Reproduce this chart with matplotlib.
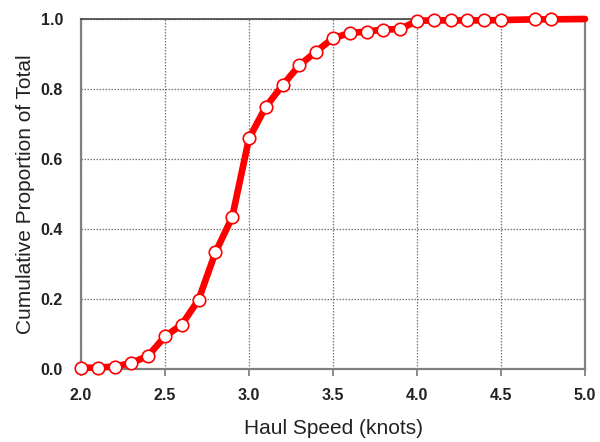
import matplotlib
matplotlib.use("Agg")
import matplotlib.pyplot as plt
import numpy as np

plt.rcParams['font.family'] = ['Liberation Sans', 'DejaVu Sans']

speed = [2.0, 2.1, 2.2, 2.3, 2.4, 2.5, 2.6, 2.7, 2.8, 2.9,
         3.0, 3.1, 3.2, 3.3, 3.4, 3.5, 3.6, 3.7, 3.8, 3.9,
         4.0, 4.1, 4.2, 4.3, 4.4, 4.5, 4.7, 4.8, 5.0]
cum_prop = [0.003, 0.004, 0.007, 0.017, 0.038, 0.093, 0.127, 0.198, 0.333, 0.434,
            0.659, 0.749, 0.811, 0.868, 0.907, 0.945, 0.960, 0.964, 0.970, 0.971,
            0.995, 0.996, 0.996, 0.996, 0.996, 0.997, 0.999, 0.999, 1.0]
marker_count = 28  # last point (5.0) drawn without marker

xticks = [2.0, 2.5, 3.0, 3.5, 4.0, 4.5, 5.0]
yticks = [0.0, 0.2, 0.4, 0.6, 0.8, 1.0]

fig = plt.figure(figsize=(6.0, 4.42), dpi=100)
ax = fig.add_axes([81/600, 1-369/442, (585-81)/600, (369-19)/442])

ax.plot(speed, cum_prop, color='#ff0000', lw=4.8, solid_capstyle='round',
        zorder=3, clip_on=False)
ax.plot(speed[:marker_count], cum_prop[:marker_count], ls='none', marker='o',
        ms=9.0, mfc='white', mec='#ff0000', mew=1.2, zorder=4, clip_on=False)

ax.set_xlim(2.0, 5.0)
ax.set_ylim(0.0, 1.0)
ax.set_xticks(xticks)
ax.set_yticks(yticks)
ax.set_xticklabels([f"{t:.1f}" for t in xticks], fontweight='bold', fontsize=11.5, color='#222222')
ax.set_yticklabels([f"{t:.1f}" for t in yticks], fontweight='bold', fontsize=11.5, color='#222222')
ax.tick_params(axis='x', direction='out', length=5, width=1.2, color='#777777', pad=9)
ax.tick_params(axis='y', direction='out', length=0, pad=13)

ax.grid(True, color='#777777', ls=(0, (1.2, 1.2)), lw=0.9)
ax.set_axisbelow(True)

for side in ['left', 'bottom', 'right']:
    ax.spines[side].set_color('#808080')
    ax.spines[side].set_linewidth(1.6)
ax.spines['top'].set_color('#444444')
ax.spines['top'].set_linewidth(1.2)

ax.set_xlabel('Haul Speed (knots)', fontsize=15, color='#222222', labelpad=11)
ax.set_ylabel('Cumulative Proportion of Total', fontsize=15, color='#222222', labelpad=4)

fig.savefig('out.png', dpi=100)
